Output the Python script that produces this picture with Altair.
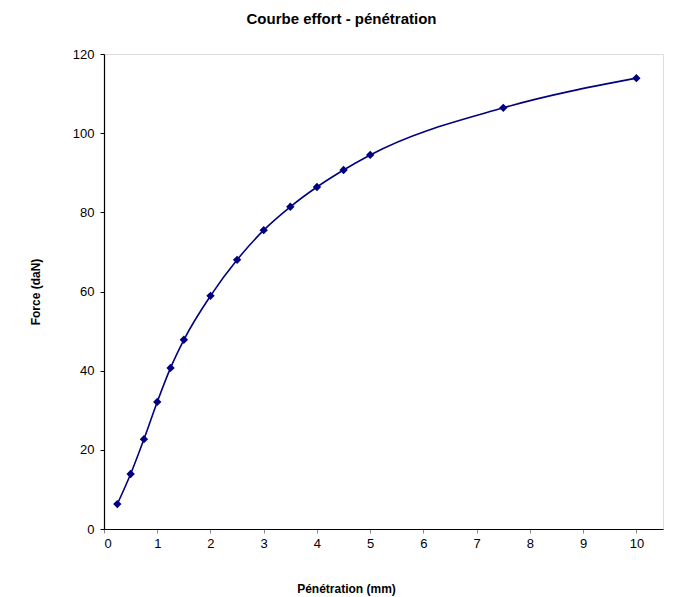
import altair as alt
import pandas as pd

penetration = [0.25, 0.5, 0.75, 1, 1.25, 1.5, 2, 2.5, 3, 3.5, 4, 4.5, 5, 7.5, 10]
force = [6.3, 13.9, 22.7, 32.1, 40.7, 47.8, 58.9, 68.0, 75.5, 81.4, 86.4, 90.7, 94.5, 106.4, 113.9]

df = pd.DataFrame({"x": penetration, "y": force})

W, H = 559, 475
xs = alt.Scale(domain=[0, 10.5], nice=False, zero=True)
ys = alt.Scale(domain=[0, 120], nice=False)

xaxis = alt.Axis(values=list(range(0, 11)), title="Pénétration (mm)", grid=False,
                 labelFont="Arial", labelFontSize=13, labelColor="black", labelPadding=4,
                 titleFont="Arial", titleFontSize=12, titleFontWeight="bold", titleColor="black",
                 titleX=242, titleY=59, titleAnchor="middle", titleBaseline="middle",
                 domainColor="black", tickColor="#888", tickSize=4, domainWidth=1.2)
yaxis = alt.Axis(values=list(range(0, 121, 20)), title="Force (daN)", grid=False,
                 labelFont="Arial", labelFontSize=13, labelColor="black", labelPadding=6,
                 titleFont="Arial", titleFontSize=12, titleFontWeight="bold", titleColor="black",
                 titleX=-69, titleY=H / 2, titleAngle=-90, titleBaseline="middle",
                 domainColor="black", tickColor="black", tickSize=4, domainWidth=1.2)

line = alt.Chart(df).mark_line(color="#000080", strokeWidth=1.6, interpolate="monotone").encode(
    x=alt.X("x:Q", scale=xs, axis=xaxis),
    y=alt.Y("y:Q", scale=ys, axis=yaxis),
)
pts = alt.Chart(df).mark_point(shape="diamond", filled=True, color="#000080", size=70, opacity=1).encode(
    x=alt.X("x:Q", scale=xs),
    y=alt.Y("y:Q", scale=ys),
)

chart = (line + pts).properties(
    width=W, height=H,
    title=alt.TitleParams("Courbe effort - pénétration", font="Arial", fontSize=15, fontWeight="bold",
                          color="black", anchor="middle", dx=-42, offset=21),
    autosize=alt.AutoSizeParams(type="none"),
    padding={"left": 96, "top": 46, "right": 3, "bottom": 75},
).configure_view(stroke="#888", strokeWidth=2).configure(background="white")

chart.save("out.html", embed_options={"renderer": "svg", "actions": False})
